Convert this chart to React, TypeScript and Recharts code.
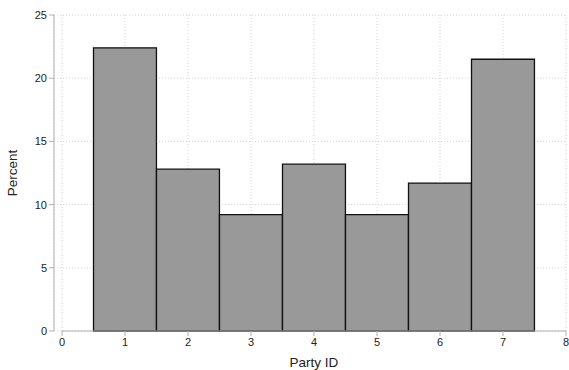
import { Bar, BarChart, CartesianGrid, ReferenceLine, XAxis, YAxis } from "recharts";

const partyIds = [1, 2, 3, 4, 5, 6, 7];
const percents = [22.4, 12.8, 9.2, 13.2, 9.2, 11.7, 21.5];
const xTicks = [0, 1, 2, 3, 4, 5, 6, 7, 8];
const yTicks = [0, 5, 10, 15, 20, 25];

const WIDTH = 569;
const HEIGHT = 370;
const MARGIN = { top: 15, right: 3, left: 0, bottom: 14 };
const Y_AXIS_W = 54;
// stata pushes the y axis a bit away from x = 0
const X_MIN = -0.127;
const X_MAX = 8;
const plotW = WIDTH - MARGIN.left - MARGIN.right - Y_AXIS_W;
// a hair under one unit, otherwise recharts shrinks the bar to 90%
const barW = plotW / (X_MAX - X_MIN) - 0.05;

const FONT = "'Liberation Sans', Arial, Helvetica, sans-serif";
const AXIS = "#b0b0b0";

export default function App() {
  const data = partyIds.map((id, i) => ({ id, pct: percents[i] }));

  return (
    <div style={{ position: "absolute", left: 0, top: 0, background: "#fff", fontFamily: FONT }}>
      <BarChart
        width={WIDTH}
        height={HEIGHT}
        data={data}
        margin={MARGIN}
        barCategoryGap={0}
        barGap={0}
      >
        <CartesianGrid stroke="#d4d4d4" strokeDasharray="1 2" />
        <XAxis
          dataKey="id"
          type="number"
          domain={[X_MIN, X_MAX]}
          ticks={xTicks}
          allowDataOverflow
          height={25}
          axisLine={false}
          tickLine={{ stroke: AXIS }}
          tickSize={5}
          tick={{ fontSize: 11, fill: "#222", fontFamily: FONT }}
          label={{
            value: "Party ID",
            position: "insideBottom",
            offset: -11,
            dx: 4,
            style: { fontSize: 13.5, fill: "#222", fontFamily: FONT },
          }}
        />
        <YAxis
          domain={[0, 25]}
          ticks={yTicks}
          width={Y_AXIS_W}
          axisLine={{ stroke: AXIS }}
          tickLine={{ stroke: AXIS }}
          tickSize={5}
          tick={{ fontSize: 11, fill: "#222", fontFamily: FONT }}
          label={{
            value: "Percent",
            angle: -90,
            position: "insideLeft",
            offset: 12,
            style: { textAnchor: "middle", fontSize: 13.5, fill: "#222", fontFamily: FONT },
          }}
        />
        <ReferenceLine
          segment={[
            { x: 0, y: 0 },
            { x: 8, y: 0 },
          ]}
          stroke={AXIS}
          ifOverflow="visible"
        />
        <Bar
          dataKey="pct"
          fill="#999999"
          stroke="#111"
          strokeWidth={1.3}
          barSize={barW}
          isAnimationActive={false}
        />
      </BarChart>
    </div>
  );
}
